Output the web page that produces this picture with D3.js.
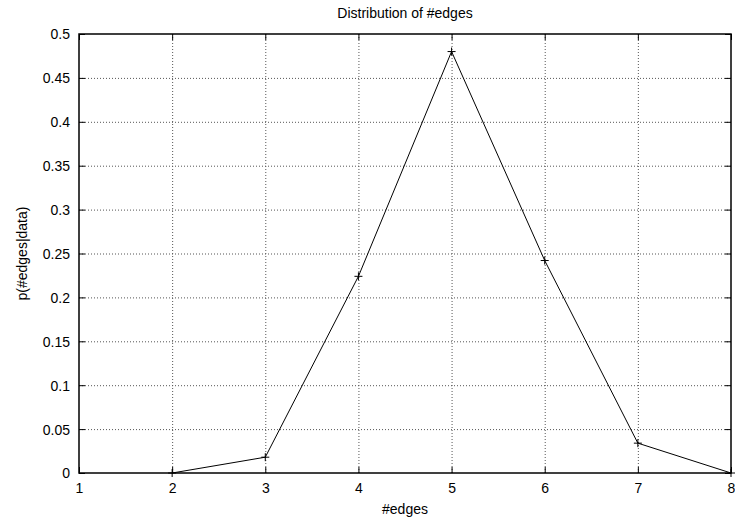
<!DOCTYPE html>
<html>
<head>
<meta charset="utf-8">
<script src="https://cdn.jsdelivr.net/npm/d3@7"></script>
<style>
  body { margin: 0; background: #fff; }
  text { font-family: "Liberation Sans", Arial, sans-serif; font-size: 14px; fill: #000; }
</style>
</head>
<body>
<div id="chart"></div>
<script>
var svgWidth = 735;
var svgHeight = 521;

var margin = { top: 34, right: 4, bottom: 48, left: 79 };
var width = svgWidth - margin.left - margin.right;
var height = svgHeight - margin.top - margin.bottom;

// data
var edges = [2, 3, 4, 5, 6, 7, 8];
var probs = [0, 0.018, 0.224, 0.48, 0.242, 0.034, 0];
var xTicks = [1, 2, 3, 4, 5, 6, 7, 8];
var yTicks = [0, 0.05, 0.1, 0.15, 0.2, 0.25, 0.3, 0.35, 0.4, 0.45, 0.5];

var svg = d3.select("#chart")
  .append("svg")
  .attr("width", svgWidth)
  .attr("height", svgHeight);

var chartGroup = svg.append("g")
  .attr("transform", `translate(${margin.left}, ${margin.top})`);

var x = d3.scaleLinear().domain([1, 8]).range([0, width]);
var y = d3.scaleLinear().domain([0, 0.5]).range([height, 0]);

// grid
chartGroup.append("g")
  .attr("class", "grid")
  .attr("transform", `translate(0, ${height})`)
  .call(d3.axisBottom(x).tickValues(xTicks.slice(1, -1)).tickSize(-height).tickFormat(""));
chartGroup.append("g")
  .attr("class", "grid")
  .call(d3.axisLeft(y).tickValues(yTicks.slice(1, -1)).tickSize(-width).tickFormat(""));
chartGroup.selectAll(".grid .domain").remove();
chartGroup.selectAll(".grid line")
  .attr("stroke", "#555")
  .attr("stroke-width", 1)
  .attr("stroke-dasharray", "1,2");

// axes with inward ticks, mirrored on top/right
var bottomAxis = chartGroup.append("g")
  .attr("transform", `translate(0, ${height})`)
  .call(d3.axisBottom(x).tickValues(xTicks).tickSize(-6).tickPadding(0).tickFormat(d3.format("d")));
bottomAxis.selectAll("text").attr("y", 20).attr("dy", 0);

var leftAxis = chartGroup.append("g")
  .call(d3.axisLeft(y).tickValues(yTicks).tickSize(-6).tickFormat(d => d === 0 ? "0" : String(d)));
leftAxis.selectAll("text").attr("x", -9).attr("dy", "0.35em");

chartGroup.append("g")
  .call(d3.axisTop(x).tickValues(xTicks).tickSize(-6).tickFormat(""));
chartGroup.append("g")
  .attr("transform", `translate(${width}, 0)`)
  .call(d3.axisRight(y).tickValues(yTicks).tickSize(-6).tickFormat(""));

chartGroup.selectAll(".domain").remove();
chartGroup.selectAll(".tick text").style("font-size", "14px").style("font-family", "'Liberation Sans', Arial, sans-serif").attr("fill", "#000");
chartGroup.selectAll(".tick line:not(.grid line)");

// border
chartGroup.append("rect")
  .attr("x", 0).attr("y", 0)
  .attr("width", width).attr("height", height)
  .attr("fill", "none")
  .attr("stroke", "#000")
  .attr("stroke-width", 1.5);

// data line
var line = d3.line()
  .x((d, i) => x(edges[i]))
  .y(d => y(d));

chartGroup.append("path")
  .datum(probs)
  .attr("fill", "none")
  .attr("stroke", "#000")
  .attr("stroke-width", 1)
  .attr("d", line);

// point markers (+)
var marks = chartGroup.selectAll(".mark")
  .data(probs)
  .enter()
  .append("path")
  .attr("class", "mark")
  .attr("transform", (d, i) => `translate(${x(edges[i])}, ${y(d)})`)
  .attr("d", "M-4,0H4M0,-4V4")
  .attr("stroke", "#000")
  .attr("stroke-width", 1);

// labels
svg.append("text")
  .attr("x", margin.left + width / 2)
  .attr("y", 18)
  .attr("text-anchor", "middle")
  .text("Distribution of #edges");

svg.append("text")
  .attr("x", margin.left + width / 2)
  .attr("y", 514)
  .attr("text-anchor", "middle")
  .text("#edges");

svg.append("text")
  .attr("transform", `translate(27, ${margin.top + height / 2}) rotate(-90)`)
  .attr("text-anchor", "middle")
  .text("p(#edges|data)");
</script>
</body>
</html>
